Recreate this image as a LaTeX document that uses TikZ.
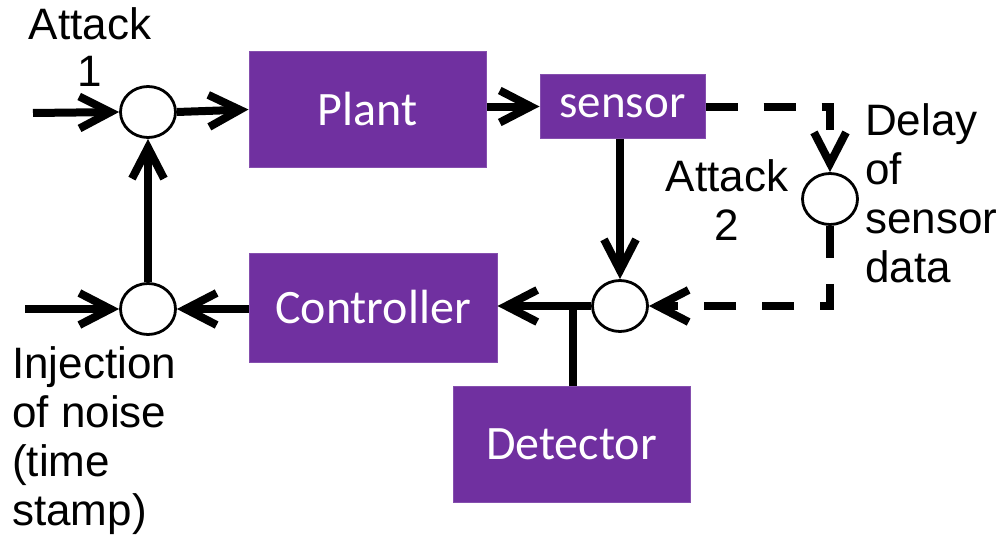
\documentclass[tikz,border=0pt]{standalone}
\usepackage{fontspec}
\setmainfont{Liberation Sans}
\newfontfamily\boxfont{Carlito}
\usetikzlibrary{arrows.meta,shapes.geometric}
\definecolor{blockpurple}{HTML}{7030A0}
\begin{document}
\begin{tikzpicture}[x=1pt,y=-1pt,
  block/.style={fill=blockpurple, draw=blockpurple!85!white, line width=1pt,
    text=white, font=\boxfont\fontsize{48}{56}\selectfont, inner sep=0pt},
  junction/.style={ellipse, draw, fill=white, line width=2.8pt,
    minimum width=55pt, minimum height=51pt, inner sep=0pt},
  wire/.style={line width=8pt},
  flow/.style={wire, -{Straight Barb[length=31pt,width=32pt]}},
  delayed/.style={dash pattern=on 32pt off 26pt},
  caption/.style={inner sep=0pt, font=\fontsize{44}{49}\selectfont}
]
\useasboundingbox (0,0) rectangle (1007,535);

% blocks
\node[block, minimum width=237pt, minimum height=115pt] (plant) at (367.5,109.5) {Plant};
\node[block, font=\boxfont\fontsize{47}{54}\selectfont, minimum width=165pt, minimum height=63pt] (sensor) at (622.5,106.5) {sensor};
\node[block, minimum width=248pt, minimum height=109pt] (controller) at (373,307.5) {Controller};
\node[block, minimum width=237pt, minimum height=116pt] (detector) at (571.5,444) {Detector};

% summing junctions
\node[junction] (j1) at (148,112) {};
\node[junction] (j2) at (148,309) {};
\node[junction] (j3) at (620,306) {};
\node[junction] (j4) at (830,199) {};

% free ends and branch point
\coordinate (in1) at (33,113);
\coordinate (in2) at (25,309);
\coordinate (tap) at (573,306);

% forward path
\draw[flow] (in1) -- (j1.west);
\draw[flow] (j1.east) -- (plant.west);
\draw[flow] (plant.east |- sensor.west) -- (sensor.west);
\draw[flow] (j3.north |- sensor.south) -- (j3.north);

% delayed sensor path
\draw[flow, delayed] (sensor.east) -- (sensor.east -| j4) -- (j4.north);
\draw[flow, delayed] (j4.south) -- (j4 |- j3) -- (j3.east);

% feedback path
\draw[flow] (j3.west) -- (controller.east |- j3.west);
\draw[wire] (tap) -- (tap |- detector.north);
\draw[flow] (controller.west |- j2) -- (j2.east);
\draw[flow] (in2) -- (j2.west);
\draw[flow] (j2.north) -- (j1.south);

% labels (base anchor sits on the last line)
\node[caption, font=\fontsize{44}{47}\selectfont, align=center, anchor=base] (lbla1) at (90,86) {Attack\\1};
\node[caption, align=center, anchor=base] (lbla2) at (727,240) {Attack\\2};
\node[caption, align=left, anchor=base west] (lbldelay) at (865,282) {Delay\\of\\sensor\\data};
\node[caption, align=left, anchor=base west] (lblnoise) at (12,525) {Injection\\of noise\\(time\\stamp)};
\end{tikzpicture}
\end{document}
